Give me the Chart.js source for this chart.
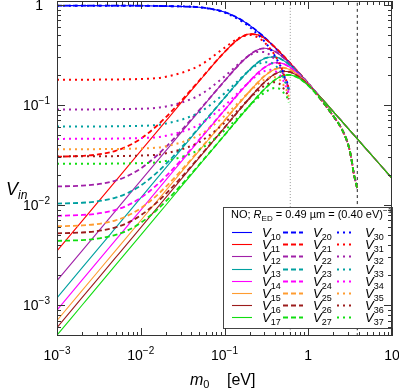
<!DOCTYPE html>
<html>
<head>
<meta charset="utf-8">
<script src="https://cdn.jsdelivr.net/npm/chart.js@4.4.0/dist/chart.umd.min.js"></script>
<style>
  html, body { margin: 0; padding: 0; background: #fff; }
  #canvas { display: block; }
</style>
</head>
<body>
<canvas id="canvas" width="399" height="388"></canvas>
<script>
// m0 in eV, V_in
var m0Solid = [0.001, 0.002, 0.005, 0.01, 0.02, 0.05, 0.1, 0.15, 0.2, 0.25, 0.3, 0.4, 0.5, 0.6, 0.7, 0.8, 1];
var v10 = [0.985, 0.985, 0.984, 0.982, 0.975, 0.95, 0.85, 0.73, 0.625, 0.54, 0.475, 0.375, 0.31, 0.264, 0.228, 0.202, 0.164];
var v11 = [0.00347, 0.00694, 0.01735, 0.0347, 0.0694, 0.1733, 0.3377, 0.4617, 0.5128, 0.5023, 0.4637, 0.379, 0.3134, 0.2658, 0.2303, 0.2036, 0.1647];
var v12 = [0.00175, 0.0035, 0.00875, 0.0175, 0.035, 0.0875, 0.1738, 0.254, 0.318, 0.3567, 0.3687, 0.3434, 0.2994, 0.2597, 0.2273, 0.202, 0.1643];
var v13 = [0.00118, 0.00236, 0.0059, 0.0118, 0.0236, 0.059, 0.1176, 0.1743, 0.2254, 0.266, 0.2922, 0.3025, 0.2804, 0.2507, 0.2228, 0.1995, 0.1635];
var v14 = [0.00089, 0.00178, 0.00445, 0.0089, 0.0178, 0.0445, 0.0889, 0.1323, 0.1733, 0.2093, 0.2373, 0.2642, 0.2591, 0.2395, 0.2169, 0.1962, 0.1623];
var v15 = [0.0007, 0.0014, 0.0035, 0.007, 0.014, 0.035, 0.0699, 0.1044, 0.1377, 0.1683, 0.1946, 0.2282, 0.2356, 0.2259, 0.2092, 0.1918, 0.1607];
var v16 = [0.000595, 0.00119, 0.002975, 0.00595, 0.0119, 0.02975, 0.0594, 0.0889, 0.1176, 0.1446, 0.1688, 0.2037, 0.2175, 0.2143, 0.2023, 0.1876, 0.1591];
var v17 = [0.0005, 0.001, 0.0025, 0.005, 0.01, 0.025, 0.04997, 0.0748, 0.0991, 0.1225, 0.1441, 0.1783, 0.1967, 0.1999, 0.193, 0.1818, 0.1567];
// common tail of the solid curves
var m0Tail = [1.5, 2, 3, 4, 5, 7, 10];
var vTail = [0.1122, 0.0855, 0.0581, 0.0442, 0.0358, 0.026, 0.0185];

// dashed curves: low-m0 part, then they follow the solid ones, then the common tail
var m0DashLow = [0.001, 0.002, 0.003, 0.005, 0.007, 0.01, 0.015, 0.02, 0.03, 0.05];
var v20 = [0.985, 0.985, 0.985, 0.984, 0.984, 0.982, 0.979, 0.975, 0.967, 0.95];
var v21 = [0.0304, 0.031, 0.0319, 0.0348, 0.0388, 0.046, 0.0602, 0.0757, 0.1084, 0.1758];
var v22 = [0.01533, 0.01562, 0.01611, 0.01756, 0.01954, 0.0232, 0.03035, 0.03817, 0.05466, 0.0887];
var v23 = [0.01033, 0.01053, 0.01086, 0.01184, 0.01318, 0.01564, 0.02046, 0.02574, 0.03686, 0.0599];
var v24 = [0.0078, 0.00795, 0.00819, 0.00893, 0.00994, 0.0118, 0.01543, 0.01941, 0.0278, 0.0452];
var v25 = [0.00613, 0.00625, 0.00644, 0.00703, 0.00782, 0.00928, 0.01214, 0.01527, 0.02187, 0.0355];
var v26 = [0.00521, 0.00531, 0.00548, 0.00597, 0.00664, 0.00789, 0.01032, 0.01298, 0.01859, 0.0302];
var v27 = [0.00438, 0.00446, 0.0046, 0.00502, 0.00558, 0.00663, 0.00867, 0.01091, 0.01562, 0.0254];
var m0DashTail = [1.5, 2, 2.5, 3, 3.25, 3.5, 3.7, 3.83];
var vDashTail = [0.107, 0.077, 0.058, 0.040, 0.030, 0.0205, 0.0168, 0.0148];

// dotted curves
var m0Dot = [0.001, 0.01, 0.02, 0.05, 0.1, 0.15, 0.2, 0.25, 0.3, 0.35, 0.4, 0.45, 0.5, 0.53, 0.56, 0.585];
var v30 = [0.985, 0.982, 0.975, 0.947, 0.84, 0.711, 0.601, 0.507, 0.432, 0.366, 0.309, 0.26, 0.2123, 0.1834, 0.1678, 0.1434];
var v31 = [0.1787, 0.182, 0.1916, 0.2473, 0.3729, 0.4697, 0.5017, 0.4748, 0.4229, 0.3664, 0.3129, 0.2629, 0.2147, 0.185, 0.1679, 0.1435];
var v32 = [0.0901, 0.0918, 0.0967, 0.1251, 0.1929, 0.2606, 0.314, 0.3395, 0.3377, 0.3161, 0.2838, 0.2462, 0.2052, 0.1784, 0.1629, 0.1398];
var v33 = [0.0608, 0.0619, 0.0652, 0.0844, 0.1307, 0.1792, 0.2232, 0.254, 0.2683, 0.2661, 0.2503, 0.225, 0.1922, 0.1691, 0.1558, 0.1345];
var v34 = [0.0458, 0.0467, 0.0492, 0.0637, 0.0987, 0.1362, 0.1718, 0.2001, 0.2183, 0.2245, 0.2189, 0.2029, 0.1777, 0.1582, 0.1473, 0.1282];
var v35 = [0.0361, 0.0367, 0.0387, 0.0501, 0.0777, 0.1075, 0.1366, 0.1611, 0.1792, 0.1889, 0.1893, 0.1802, 0.1617, 0.1458, 0.1373, 0.1204];
var v36 = [0.0306, 0.0312, 0.0329, 0.0426, 0.0661, 0.0915, 0.1167, 0.1384, 0.1555, 0.166, 0.169, 0.1637, 0.1494, 0.1358, 0.1289, 0.1138];
var v37 = [0.0258, 0.0262, 0.0276, 0.0358, 0.0556, 0.077, 0.0984, 0.1173, 0.1327, 0.1434, 0.148, 0.1457, 0.1351, 0.1241, 0.1189, 0.1057];

var subs = ['0', '1', '2', '3', '4', '5', '6', '7'];
var colors = ['#0000ff', '#ff0000', '#a020a8', '#00a0a0', '#ff00ff', '#ff9c30', '#9c1c1c', '#10dd10'];
var vLines = [0.61, 3.85];
var xMin = 1e-3, xMax = 10, yMin = 4.9e-4, yMax = 1.096;
var xTicks = [1e-3, 1e-2, 1e-1, 1, 10];
var xTickLabels = [['10', '\u22123'], ['10', '\u22122'], ['10', '\u22121'], ['1', ''], ['10', '']];
var yTicks = [1e-3, 1e-2, 1e-1, 1];
var yTickLabels = [['10', '\u22123'], ['10', '\u22122'], ['10', '\u22121'], ['1', '']];

var FONT = '"Liberation Sans", Arial, sans-serif';

function pts(xs, ys) {
  return xs.map(function (x, i) { return { x: x, y: ys[i] }; });
}

var solidV = [v10, v11, v12, v13, v14, v15, v16, v17];
var dashV = [v20, v21, v22, v23, v24, v25, v26, v27];
var dotV = [v30, v31, v32, v33, v34, v35, v36, v37];

var datasets = [];
for (var i = 0; i < 8; i++) {
  datasets.push({
    label: '1' + subs[i],
    data: pts(m0Solid, solidV[i]).concat(pts(m0Tail, vTail)),
    borderColor: colors[i], borderWidth: 1.1, showLine: true, order: 100 - i
  });
}
for (var i = 0; i < 8; i++) {
  datasets.push({
    label: '2' + subs[i],
    data: pts(m0DashLow, dashV[i]).concat(pts(m0Solid.slice(6), solidV[i].slice(6)), pts(m0DashTail, vDashTail)),
    borderColor: colors[i], borderWidth: 1.8, borderDash: [5, 3], showLine: true, order: 90 - i
  });
}
for (var i = 0; i < 8; i++) {
  datasets.push({
    label: '3' + subs[i],
    data: pts(m0Dot, dotV[i]),
    borderColor: colors[i], borderWidth: 2, borderDash: [2, 4], showLine: true, order: 80 - i
  });
}
datasets.push({ label: 'vline1', data: pts([vLines[0], vLines[0]], [yMin, yMax]), borderColor: '#999', borderWidth: 1, borderDash: [1, 2], showLine: true, order: 200 });
datasets.push({ label: 'vline2', data: pts([vLines[1], vLines[1]], [yMin, yMax]), borderColor: '#222', borderWidth: 1, borderDash: [3, 3], showLine: true, order: 201 });

// draws a run of text pieces (font, vertical shift) starting at x
function rich(ctx, segs, x, y, align) {
  var w = 0;
  segs.forEach(function (s) { ctx.font = s.f; s.w = ctx.measureText(s.t).width; w += s.w; });
  if (align === 'center') x -= w / 2;
  if (align === 'right') x -= w;
  ctx.textAlign = 'left';
  ctx.textBaseline = 'alphabetic';
  segs.forEach(function (s) {
    ctx.font = s.f;
    ctx.fillText(s.t, x, y + (s.dy || 0));
    x += s.w;
  });
}

var framePlugin = {
  id: 'frame',
  afterDraw: function (chart) {
    var ctx = chart.ctx, ca = chart.chartArea;
    var xs = chart.scales.x, ys = chart.scales.y;
    ctx.save();
    ctx.fillStyle = '#000';

    // legend box
    var bx = 223.5, by = 207.5, bw = 169, bh = 121;
    ctx.fillStyle = '#fff';
    ctx.fillRect(bx, by, bw, bh);
    ctx.strokeStyle = '#444';
    ctx.lineWidth = 1;
    ctx.setLineDash([]);
    ctx.strokeRect(bx, by, bw, bh);
    ctx.fillStyle = '#000';
    rich(ctx, [
      { t: 'NO; ', f: '11px ' + FONT },
      { t: 'R', f: 'italic 11px ' + FONT },
      { t: 'ED', f: '8px ' + FONT, dy: 3 },
      { t: ' = 0.49 \u00b5m = (0.40 eV)', f: '11px ' + FONT },
      { t: '\u22121', f: '8px ' + FONT, dy: -5 }
    ], 231, 218, 'left');
    var cols = [[232, 252, 262], [283, 303, 313], [337, 352, 365]];
    for (var r = 0; r < 8; r++) {
      var yy = Math.round(232 + r * 12.2) + 0.5;
      for (var c = 0; c < 3; c++) {
        var d = chart.data.datasets[c * 8 + r];
        ctx.strokeStyle = d.borderColor;
        ctx.lineWidth = d.borderWidth;
        ctx.setLineDash(d.borderDash || []);
        ctx.beginPath();
        ctx.moveTo(cols[c][0], yy);
        ctx.lineTo(cols[c][1], yy);
        ctx.stroke();
        ctx.fillStyle = '#000';
        rich(ctx, [
          { t: 'V', f: 'italic 13px ' + FONT },
          { t: d.label, f: '9px ' + FONT, dy: 3 }
        ], cols[c][2], yy + 4.5, 'left');
      }
    }
    ctx.setLineDash([]);

    // inward ticks on all four sides
    ctx.strokeStyle = '#333';
    ctx.lineWidth = 1;
    ctx.beginPath();
    for (var e = -3; e <= 1; e++) {
      for (var k = 1; k <= 9; k++) {
        var v = k * Math.pow(10, e);
        if (v > xMax * 1.0001) break;
        var px = Math.round(xs.getPixelForValue(v)) + 0.5;
        var len = k === 1 ? 8 : 4;
        ctx.moveTo(px, ca.bottom); ctx.lineTo(px, ca.bottom - len);
        ctx.moveTo(px, ca.top); ctx.lineTo(px, ca.top + len);
      }
    }
    for (var e = -4; e <= 0; e++) {
      for (var k = 1; k <= 9; k++) {
        var v = k * Math.pow(10, e);
        if (v < yMin || v > yMax) continue;
        var py = Math.round(ys.getPixelForValue(v)) + 0.5;
        var len = k === 1 ? 8 : 4;
        ctx.moveTo(ca.left, py); ctx.lineTo(ca.left + len, py);
        ctx.moveTo(ca.right, py); ctx.lineTo(ca.right - len, py);
      }
    }
    ctx.stroke();
    ctx.strokeStyle = '#333';
    ctx.strokeRect(Math.round(ca.left) + 0.5, Math.round(ca.top) + 0.5, Math.round(ca.right - ca.left) - 1, Math.round(ca.bottom - ca.top) - 1);

    // tick labels
    ctx.fillStyle = '#000';
    xTicks.forEach(function (v, i) {
      var lab = xTickLabels[i];
      rich(ctx, [{ t: lab[0], f: '14px ' + FONT }, { t: lab[1], f: '10px ' + FONT, dy: -6 }], xs.getPixelForValue(v), 360, 'center');
    });
    yTicks.forEach(function (v, i) {
      var lab = yTickLabels[i];
      var right = lab[1] ? 50 : 43;
      rich(ctx, [{ t: lab[0], f: '14px ' + FONT }, { t: lab[1], f: '10px ' + FONT, dy: -6 }], right, ys.getPixelForValue(v) + 5, 'right');
    });

    // axis titles
    rich(ctx, [{ t: 'V', f: 'italic 18px ' + FONT }, { t: 'in', f: 'italic 12px ' + FONT, dy: 4 }], 6, 195, 'left');
    rich(ctx, [{ t: 'm', f: 'italic 16px ' + FONT }, { t: '0', f: '11px ' + FONT, dy: 3 }], 190, 385, 'left');
    rich(ctx, [{ t: '[eV]', f: '16px ' + FONT }], 227, 385, 'left');
    ctx.restore();
  }
};

var ctx = document.getElementById('canvas').getContext('2d');
window.myChart = new Chart(ctx, {
  type: 'scatter',
  data: { datasets: datasets },
  options: {
    responsive: false,
    animation: false,
    devicePixelRatio: 1,
    layout: { padding: { top: 1, right: 7, left: 0, bottom: 0 } },
    plugins: { legend: { display: false }, tooltip: { enabled: false } },
    elements: { point: { radius: 0 }, line: { cubicInterpolationMode: 'monotone' } },
    scales: {
      x: {
        type: 'logarithmic', min: xMin, max: xMax,
        ticks: { display: false }, grid: { display: false }, border: { display: false },
        afterFit: function (s) { s.height = 52; s.paddingLeft = 0; s.paddingRight = 0; }
      },
      y: {
        type: 'logarithmic', min: yMin, max: yMax,
        ticks: { display: false }, grid: { display: false }, border: { display: false },
        afterFit: function (s) { s.width = 57; s.paddingTop = 0; s.paddingBottom = 0; }
      }
    }
  },
  plugins: [framePlugin]
});
</script>
</body>
</html>
